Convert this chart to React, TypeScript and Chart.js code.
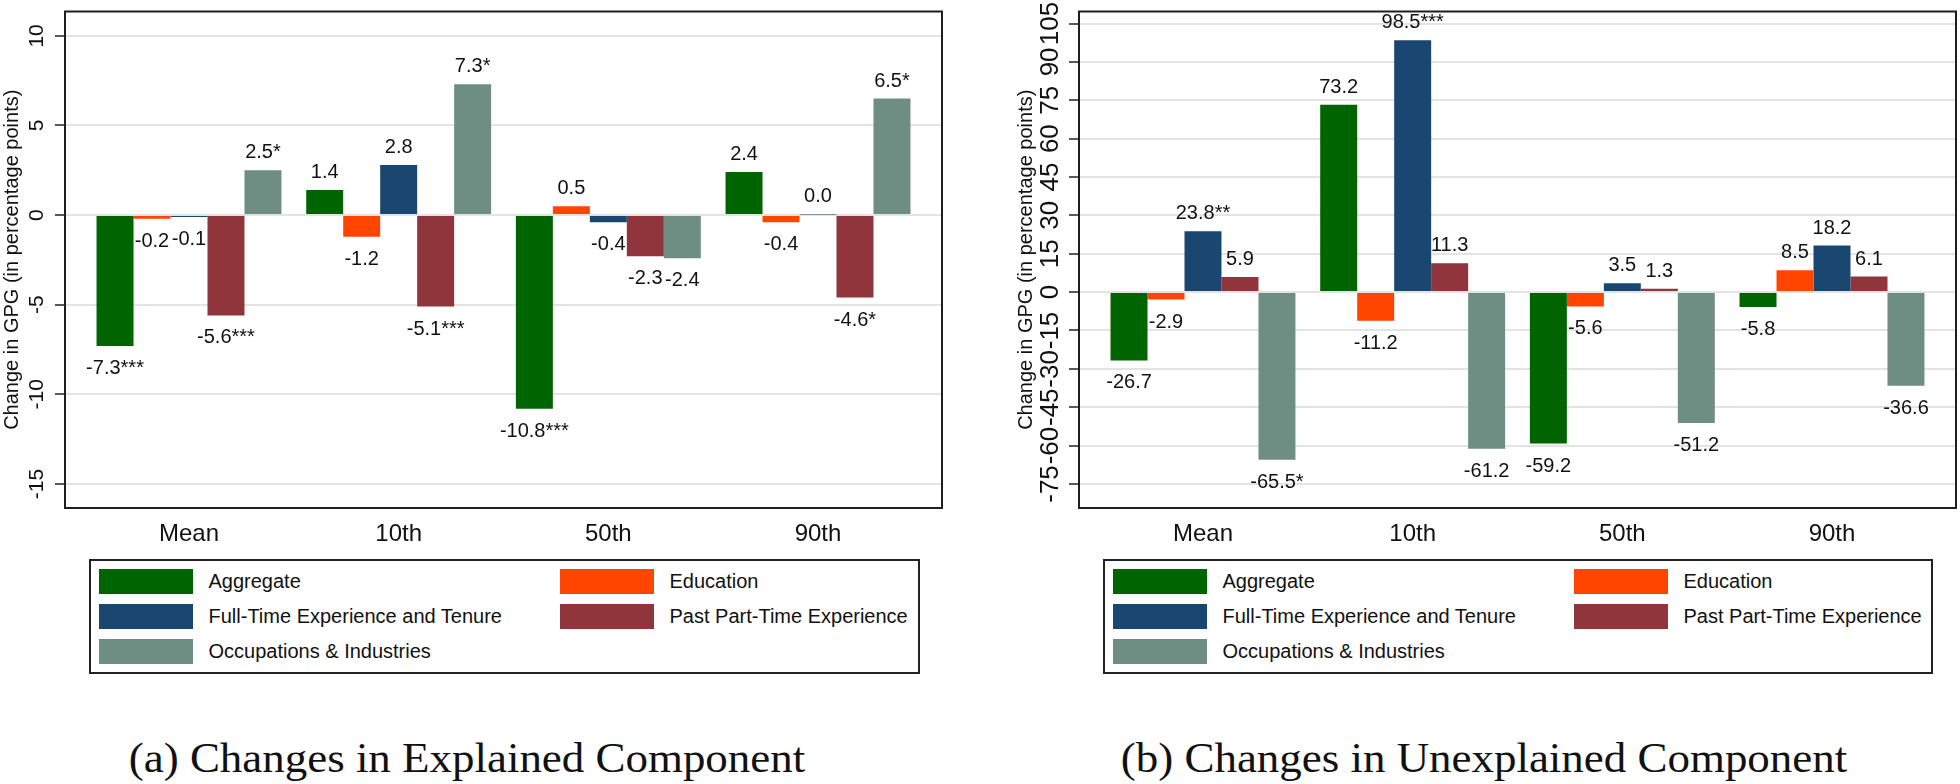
import React, { useEffect, useRef } from 'react';
import { Chart, registerables } from 'chart.js';

Chart.register(...registerables);

const FONT = "'Liberation Sans', Arial, Helvetica, sans-serif";
const SERIF = "'Liberation Serif', 'Times New Roman', serif";

// ---------- data ----------
const categories = ['Mean', '10th', '50th', '90th'];
const seriesNames = [
  'Aggregate',
  'Education',
  'Full-Time Experience and Tenure',
  'Past Part-Time Experience',
  'Occupations & Industries',
];
const seriesColors = ['#006400', '#ff4500', '#1a476f', '#90353b', '#6e8e84'];

// (a) Explained component
const explAggregate = [-7.3, 1.4, -10.8, 2.4];
const explEducation = [-0.2, -1.2, 0.5, -0.4];
const explFullTime = [-0.1, 2.8, -0.4, 0.04];
const explPartTime = [-5.6, -5.1, -2.3, -4.6];
const explOccupations = [2.5, 7.3, -2.4, 6.5];
const explAggregateStars = ['***', '', '***', ''];
const explEducationStars = ['', '', '', ''];
const explFullTimeStars = ['', '', '', ''];
const explPartTimeStars = ['***', '***', '', '*'];
const explOccupationsStars = ['*', '*', '', '*'];
const explTicks = [-15, -10, -5, 0, 5, 10];

// (b) Unexplained component
const unexAggregate = [-26.7, 73.2, -59.2, -5.8];
const unexEducation = [-2.9, -11.2, -5.6, 8.5];
const unexFullTime = [23.8, 98.5, 3.5, 18.2];
const unexPartTime = [5.9, 11.3, 1.3, 6.1];
const unexOccupations = [-65.5, -61.2, -51.2, -36.6];
const unexAggregateStars = ['', '', '', ''];
const unexEducationStars = ['', '', '', ''];
const unexFullTimeStars = ['**', '***', '', ''];
const unexPartTimeStars = ['', '', '', ''];
const unexOccupationsStars = ['*', '', '', ''];
const unexTicks = [-75, -60, -45, -30, -15, 0, 15, 30, 45, 60, 75, 90, 105];

const yTitle = 'Change in GPG (in percentage points)';
const captionA = '(a) Changes in Explained Component';
const captionB = '(b) Changes in Unexplained Component';

// ---------- plugins ----------
const framePlugin = {
  id: 'frame',
  afterDatasetsDraw(chart: any) {
    const { ctx, chartArea: a } = chart;
    ctx.save();
    ctx.strokeStyle = '#1e1e1e';
    ctx.lineWidth = 2;
    ctx.strokeRect(a.left, a.top, a.right - a.left, a.bottom - a.top);
    ctx.restore();
  },
};

const labelPlugin = {
  id: 'barLabels',
  afterDatasetsDraw(chart: any) {
    const ctx = chart.ctx;
    ctx.save();
    ctx.font = `20px ${FONT}`;
    ctx.fillStyle = '#111';
    ctx.textAlign = 'center';
    ctx.textBaseline = 'alphabetic';
    chart.data.datasets.forEach((ds: any, i: number) => {
      const meta = chart.getDatasetMeta(i);
      meta.data.forEach((bar: any, j: number) => {
        const v = ds.data[j].y;
        const text = v.toFixed(1) + (ds.stars[j] || '');
        const y = v >= 0 ? bar.y - 12 : bar.y + 28;
        ctx.fillText(text, bar.x, y);
      });
    });
    ctx.restore();
  },
};

const xMin = -0.5914;
const xMax = 3.5914;

function buildConfig(spec: any): any {
  const datasets = seriesNames.map((name, i) => ({
    label: name,
    data: spec.series[i].map((v: number, j: number) => ({ x: j, y: v })),
    backgroundColor: seriesColors[i],
    borderWidth: 0,
    categoryPercentage: 0.882,
    barPercentage: 1,
    stars: spec.stars[i],
  }));
  return {
    type: 'bar',
    data: { datasets },
    options: {
      responsive: false,
      animation: false,
      devicePixelRatio: 1,
      layout: { padding: { left: 0, right: spec.padRight, top: 11.5, bottom: 0 } },
      plugins: { legend: { display: false }, tooltip: { enabled: false } },
      scales: {
        x: {
          type: 'linear',
          min: xMin,
          max: xMax,
          offset: false,
          afterBuildTicks: (s: any) => {
            s.ticks = categories.map((_, i) => ({ value: i }));
          },
          afterFit: (s: any) => {
            s.height = 52;
            s.paddingLeft = 0;
            s.paddingRight = 0;
          },
          grid: { display: false, drawTicks: false },
          border: { display: false },
          ticks: {
            callback: (v: number) => categories[v] ?? '',
            font: { family: FONT, size: 24 },
            color: '#111',
            padding: 11.6,
            maxRotation: 0,
            minRotation: 0,
            autoSkip: false,
          },
        },
        y: {
          type: 'linear',
          min: spec.yMin,
          max: spec.yMax,
          afterBuildTicks: (s: any) => {
            s.ticks = spec.ticks.map((v: number) => ({ value: v }));
          },
          afterFit: (s: any) => {
            s.width = spec.axisWidth;
            s.paddingTop = 0;
            s.paddingBottom = 0;
          },
          grid: { color: '#e3e3e3', lineWidth: 2, tickColor: '#222', tickLength: 10, tickWidth: 1.5 },
          border: { display: false },
          ticks: {
            font: { family: FONT, size: spec.tickFont },
            color: '#111',
            minRotation: 90,
            maxRotation: 90,
            crossAlign: 'center',
            padding: spec.tickPad,
            autoSkip: false,
            callback: (v: number) => String(v),
          },
          title: {
            display: true,
            text: yTitle,
            font: { family: FONT, size: 20 },
            color: '#111',
            padding: { top: spec.titlePad, bottom: 0 },
          },
        },
      },
    },
    plugins: [framePlugin, labelPlugin],
  };
}

function Panel({ spec, left, width, height }: any) {
  const ref = useRef<HTMLCanvasElement>(null);
  useEffect(() => {
    if (!ref.current) return;
    const chart = new Chart(ref.current, buildConfig(spec));
    return () => chart.destroy();
  }, []);
  return (
    <canvas
      ref={ref}
      width={width}
      height={height}
      style={{ position: 'absolute', left, top: 0, width, height }}
    />
  );
}

function Legend({ left, top, width }: any) {
  return (
    <div
      style={{
        position: 'absolute',
        left,
        top,
        width,
        height: 115,
        boxSizing: 'border-box',
        border: '2px solid #222',
        background: '#fff',
      }}
    >
      {seriesNames.map((name, i) => {
        const row = Math.floor(i / 2);
        const col = i % 2;
        return (
          <div
            key={name}
            style={{
              position: 'absolute',
              left: 8 + col * 461,
              top: 8 + row * 35,
              height: 25,
              display: 'flex',
              alignItems: 'center',
              whiteSpace: 'nowrap',
            }}
          >
            <div style={{ width: 94, height: 25, background: seriesColors[i] }} />
            <span
              style={{
                marginLeft: 15.5,
                font: `20px ${FONT}`,
                color: '#111',
                lineHeight: '25px',
              }}
            >
              {name}
            </span>
          </div>
        );
      })}
    </div>
  );
}

function Caption({ text, center }: any) {
  return (
    <div
      style={{
        position: 'absolute',
        left: center - 450,
        top: 737,
        width: 900,
        textAlign: 'center',
        font: `42px ${SERIF}`,
        lineHeight: '42px',
        color: '#111',
        whiteSpace: 'nowrap',
        transform: 'scaleX(1.07)',
      }}
    >
      {text}
    </div>
  );
}

const specA = {
  series: [explAggregate, explEducation, explFullTime, explPartTime, explOccupations],
  stars: [explAggregateStars, explEducationStars, explFullTimeStars, explPartTimeStars, explOccupationsStars],
  ticks: explTicks,
  yMin: -16.34,
  yMax: 11.36,
  axisWidth: 65,
  padRight: 18,
  tickFont: 21,
  tickPad: 2.8,
  titlePad: 0,
};

const specB = {
  series: [unexAggregate, unexEducation, unexFullTime, unexPartTime, unexOccupations],
  stars: [unexAggregateStars, unexEducationStars, unexFullTimeStars, unexPartTimeStars, unexOccupationsStars],
  ticks: unexTicks,
  yMin: -84.4,
  yMax: 109.7,
  axisWidth: 99,
  padRight: 4,
  tickFont: 26,
  tickPad: -3.7,
  titlePad: 34.7,
};

export default function App() {
  return (
    <div
      style={{
        position: 'absolute',
        left: 0,
        top: 0,
        width: 1960,
        height: 784,
        background: '#fff',
        overflow: 'hidden',
      }}
    >
      <Panel spec={specA} left={0} width={960} height={560} />
      <Panel spec={specB} left={980} width={980} height={560} />
      <Legend left={89} top={559} width={831} />
      <Legend left={1103} top={559} width={830} />
      <Caption text={captionA} center={467} />
      <Caption text={captionB} center={1484} />
    </div>
  );
}
